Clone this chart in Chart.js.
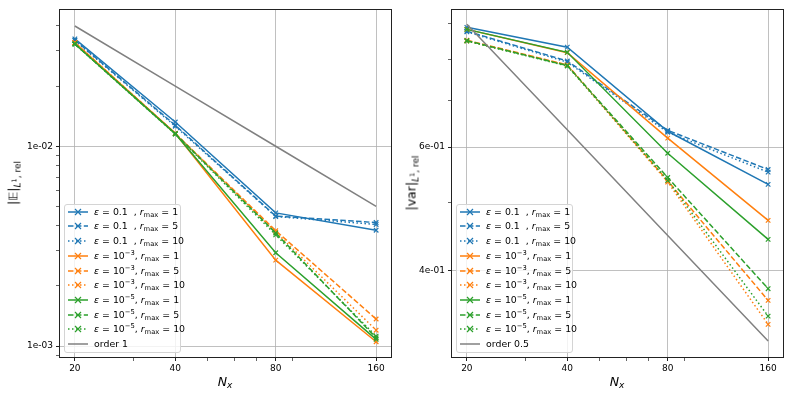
<!DOCTYPE html>
<html>
<head>
<meta charset="utf-8">
<script src="https://cdn.jsdelivr.net/npm/chart.js@4.4.0/dist/chart.umd.min.js"></script>
<style>
    body { margin: 0; background: #fff; font-family: 'DejaVu Sans', sans-serif; color: #000; }
    #wrap { position: relative; width: 793px; height: 397px; overflow: hidden; }
    canvas { position: absolute; top: 0; }
    .legend { position: absolute; top: 204px; width: 117px; height: 149px; box-sizing: border-box;
              border: 1px solid #d4d4d4; border-radius: 3px; background: rgba(255,255,255,0.8); font-size: 9.4px; }
    .legend .row { position: absolute; left: 0; height: 14px; line-height: 14px; white-space: nowrap; }
    .legend svg { position: absolute; left: 3px; top: 2px; }
    .legend .txt { position: absolute; left: 29px; top: 0; }
    sub, sup { font-size: 72%; line-height: 0; }
    sub { vertical-align: -0.3em; }
    sup { vertical-align: 0.55em; }
    .ylab { position: absolute; font-size: 12.5px; white-space: nowrap; transform: translate(-50%, -50%) rotate(-90deg); }
    .xlab { position: absolute; font-size: 12.5px; white-space: nowrap; transform: translate(-50%, -50%); }
</style>
</head>
<body>
<div id="wrap">
    <canvas id="meanChart" width="400" height="397" style="left:0"></canvas>
    <canvas id="varChart" width="393" height="397" style="left:400px"></canvas>
    <div class="ylab" style="left:13px; top:183px">|𝔼|<sub><i>L</i><sup>1</sup>, rel</sub></div>
    <div class="ylab" style="left:411px; top:183px">|var|<sub><i>L</i><sup>1</sup>, rel</sub></div>
    <div class="xlab" style="left:225px; top:381px"><i>N</i><sub><i>x</i></sub></div>
    <div class="xlab" style="left:617px; top:381px"><i>N</i><sub><i>x</i></sub></div>
    <div class="legend" id="meanLegend" style="left:64px"></div>
    <div class="legend" id="varLegend" style="left:456px"></div>
</div>
<script>
Chart.defaults.font.family = "'DejaVu Sans', sans-serif";
Chart.defaults.font.size = 9;
Chart.defaults.color = '#000';

const nx = [20, 40, 80, 160];
const xTicks = [20, 30, 40, 50, 60, 70, 80, 90, 160];
const xTickLabels = [20, 40, 80, 160];

const epsLabels = ['0.1&nbsp;&nbsp;', '10<sup>−3</sup>', '10<sup>−5</sup>'];
const rmaxLabels = [1, 5, 10];
const colors = ['#1f77b4', '#ff7f0e', '#2ca02c'];
const dashes = [[], [5.5, 2.4], [1.5, 2.5]];

// |E| relative L1 error
const mean_e1_r1 = [0.0345, 0.01323, 0.00464, 0.00380];
const mean_e1_r5 = [0.0340, 0.01274, 0.00447, 0.00415];
const mean_e1_r10 = [0.0338, 0.01260, 0.00445, 0.00406];
const mean_e3_r1 = [0.0330, 0.01160, 0.00269, 0.00105];
const mean_e3_r5 = [0.0330, 0.01160, 0.00378, 0.001365];
const mean_e3_r10 = [0.0330, 0.01160, 0.00372, 0.00120];
const mean_e5_r1 = [0.0325, 0.01155, 0.00293, 0.00108];
const mean_e5_r5 = [0.0325, 0.01155, 0.00368, 0.00110];
const mean_e5_r10 = [0.0325, 0.01150, 0.00360, 0.00112];
const order1 = [0.04, 0.02, 0.01, 0.005];

// |var| relative L1 error
const var_e1_r1 = [0.889, 0.833, 0.632, 0.531];
const var_e1_r5 = [0.878, 0.796, 0.634, 0.5575];
const var_e1_r10 = [0.876, 0.793, 0.630, 0.5527];
const var_e3_r1 = [0.883, 0.818, 0.618, 0.4717];
const var_e3_r5 = [0.852, 0.786, 0.537, 0.3628];
const var_e3_r10 = [0.850, 0.785, 0.535, 0.3354];
const var_e5_r1 = [0.883, 0.819, 0.588, 0.4433];
const var_e5_r5 = [0.851, 0.784, 0.543, 0.377];
const var_e5_r10 = [0.850, 0.783, 0.538, 0.3446];
const order05 = [0.898, 0.635, 0.449, 0.3175];

const meanSeries = [mean_e1_r1, mean_e1_r5, mean_e1_r10, mean_e3_r1, mean_e3_r5, mean_e3_r10, mean_e5_r1, mean_e5_r5, mean_e5_r10];
const varSeries = [var_e1_r1, var_e1_r5, var_e1_r10, var_e3_r1, var_e3_r5, var_e3_r10, var_e5_r1, var_e5_r5, var_e5_r10];

const meanYTicks = [9e-4, 1e-3, 2e-3, 3e-3, 4e-3, 5e-3, 6e-3, 7e-3, 8e-3, 9e-3, 1e-2, 2e-2, 3e-2, 4e-2];
const meanYLabels = [1e-3, 1e-2];
const varYTicks = [0.4, 0.5, 0.6, 0.7, 0.8, 0.9];
const varYLabels = [0.4, 0.6];

function sciLabel(v) {
    const parts = v.toExponential(0).split('e');
    const exp = parseInt(parts[1], 10);
    return parts[0] + 'e' + (exp < 0 ? '-' : '+') + String(Math.abs(exp)).padStart(2, '0');
}

function isIn(list, v) {
    return list.some(t => Math.abs(t - v) / t < 1e-6);
}

function buildDatasets(series, orderData) {
    const sets = series.map((vals, i) => {
        const c = colors[Math.floor(i / 3)];
        return {
            data: vals.map((v, k) => ({ x: nx[k], y: v })),
            borderColor: c,
            borderWidth: 1.5,
            borderDash: dashes[i % 3],
            pointStyle: 'crossRot',
            pointRadius: 3.2,
            pointBorderWidth: 1.2,
            pointBorderColor: c,
            pointBackgroundColor: c,
            tension: 0,
            order: 20 - i
        };
    });
    sets.push({
        data: orderData.map((v, k) => ({ x: nx[k], y: v })),
        borderColor: '#808080',
        borderWidth: 1.5,
        pointRadius: 0,
        order: 1
    });
    return sets;
}

const frame = {
    id: 'frame',
    afterDatasetsDraw(chart) {
        const a = chart.chartArea;
        const ctx = chart.ctx;
        ctx.save();
        ctx.strokeStyle = '#222';
        ctx.lineWidth = 1;
        ctx.strokeRect(Math.round(a.left) - 0.5, Math.round(a.top) - 0.5,
            Math.round(a.right - a.left) + 1, Math.round(a.bottom - a.top) + 1);
        ctx.restore();
    }
};

function makeChart(id, series, orderData, yMin, yMax, yTicks, yLabels, yWidth, padRight) {
    return new Chart(document.getElementById(id), {
        type: 'line',
        data: { datasets: buildDatasets(series, orderData) },
        plugins: [frame],
        options: {
            responsive: false,
            animation: false,
            events: [],
            devicePixelRatio: 1,
            layout: { padding: { left: 0, right: padRight, top: 10, bottom: 0 } },
            plugins: { legend: { display: false }, tooltip: { enabled: false } },
            scales: {
                x: {
                    type: 'logarithmic',
                    min: 18.05,
                    max: 177.3,
                    afterBuildTicks: s => { s.ticks = xTicks.map(v => ({ value: v })); },
                    afterFit: s => { s.height = 40; },
                    border: { display: false },
                    grid: {
                        color: c => isIn(xTickLabels, c.tick.value) ? '#b0b0b0' : 'rgba(0,0,0,0)',
                        lineWidth: 0.8,
                        tickColor: '#222',
                        tickWidth: c => isIn(xTickLabels, c.tick.value) ? 1 : 0.7,
                        tickLength: 4
                    },
                    ticks: {
                        autoSkip: false,
                        maxRotation: 0,
                        padding: 2,
                        callback: v => isIn(xTickLabels, v) ? String(v) : ''
                    }
                },
                y: {
                    type: 'logarithmic',
                    min: yMin,
                    max: yMax,
                    afterBuildTicks: s => { s.ticks = yTicks.map(v => ({ value: v })); },
                    afterFit: s => { s.width = yWidth; },
                    border: { display: false },
                    grid: {
                        color: c => isIn(yLabels, c.tick.value) ? '#b0b0b0' : 'rgba(0,0,0,0)',
                        lineWidth: 0.8,
                        tickColor: '#222',
                        tickWidth: c => isIn(yLabels, c.tick.value) ? 1 : 0.7,
                        tickLength: 4
                    },
                    ticks: {
                        autoSkip: false,
                        padding: 3,
                        callback: v => isIn(yLabels, v) ? sciLabel(v) : ''
                    }
                }
            }
        }
    });
}

function buildLegend(el, orderLabel) {
    let html = '';
    let i = 0;
    const rowTop = k => (-0.3 + 14.7 * k).toFixed(1);
    epsLabels.forEach((eps, e) => {
        rmaxLabels.forEach((r, j) => {
            const c = colors[e];
            const dash = dashes[j].length ? ' stroke-dasharray="' + dashes[j].join(',') + '"' : '';
            html += '<div class="row" style="top:' + rowTop(i) + 'px">' +
                '<svg width="20" height="10"><line x1="0" y1="5" x2="20" y2="5" stroke="' + c + '" stroke-width="1.5"' + dash + '/>' +
                '<path d="M7 2L13 8M13 2L7 8" stroke="' + c + '" stroke-width="1.2"/></svg>' +
                '<span class="txt"><i>ε</i> = ' + eps + ', <i>r</i><sub>max</sub> = ' + r + '</span></div>';
            i++;
        });
    });
    html += '<div class="row" style="top:' + rowTop(i) + 'px">' +
        '<svg width="20" height="10"><line x1="0" y1="5" x2="20" y2="5" stroke="#808080" stroke-width="1.5"/></svg>' +
        '<span class="txt">' + orderLabel + '</span></div>';
    el.innerHTML = html;
}

makeChart('meanChart', meanSeries, order1, 8.81e-4, 0.0481, meanYTicks, meanYLabels, 60, 9);
makeChart('varChart', varSeries, order05, 0.3013, 0.941, varYTicks, varYLabels, 52, 10);
buildLegend(document.getElementById('meanLegend'), 'order 1');
buildLegend(document.getElementById('varLegend'), 'order 0.5');
</script>
</body>
</html>
